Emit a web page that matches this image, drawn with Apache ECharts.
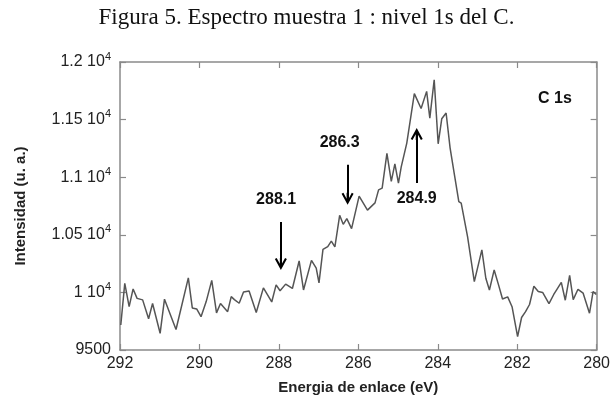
<!DOCTYPE html>
<html>
<head>
<meta charset="utf-8">
<script src="https://cdn.jsdelivr.net/npm/echarts@6/dist/echarts.min.js"></script>
<style>html,body{margin:0;padding:0;background:#fff;}#c{width:613px;height:402px;}</style>
</head>
<body>
<div id="c"></div>
<script>
// Binding energy (eV) of each vertex of the spectrum
const energy = [291.98,291.88,291.77,291.67,291.57,291.43,291.28,291.18,290.99,290.88,290.59,290.28,290.18,290.07,289.96,289.83,289.69,289.57,289.47,289.29,289.20,289.12,289.00,288.89,288.75,288.57,288.39,288.18,288.07,287.97,287.83,287.66,287.49,287.38,287.18,287.06,286.99,286.89,286.77,286.68,286.59,286.47,286.38,286.29,286.17,285.98,285.77,285.58,285.49,285.40,285.28,285.17,285.08,284.99,284.92,284.78,284.59,284.42,284.28,284.20,284.09,283.99,283.90,283.79,283.69,283.58,283.47,283.41,283.25,283.08,282.89,282.79,282.70,282.58,282.47,282.37,282.24,282.13,281.99,281.89,281.79,281.69,281.58,281.47,281.36,281.20,281.08,281.00,280.89,280.79,280.68,280.59,280.47,280.34,280.18,280.09,280.01];
// Intensity (u. a.)
const intensity = [9717,10078,9876,10030,9948,9935,9771,9904,9645,9941,9678,10126,9865,9856,9789,9920,10104,9822,9904,9833,9963,9937,9906,10004,10013,9826,10039,9917,10065,10014,10072,10034,10273,10021,10278,10210,10082,10373,10398,10445,10395,10669,10591,10640,10553,10836,10714,10777,10890,10905,11206,10963,11115,10949,11090,11296,11725,11596,11745,11513,11846,11290,11507,11557,11255,11021,10789,10775,10485,10094,10369,10123,10021,10195,10065,9943,9961,9876,9616,9782,9833,9895,10054,10007,10000,9902,9982,10027,10087,9932,10147,9937,10027,9993,9819,10007,9982];

// Y tick labels: mantissa and exponent
const yTickValues = [9500, 10000, 10500, 11000, 11500, 12000];
const yTickMantissa = ['9500', '1', '1.05', '1.1', '1.15', '1.2'];
const yTickExponent = ['', '4', '4', '4', '4', '4'];

// Peak arrows
const arrowLabels = ['288.1', '286.3', '284.9'];
const arrowEnergy = [287.95, 286.27, 284.53];
const arrowTail = [10612, 11108, 10949];
const arrowTip = [10247, 10812, 11375];
const labelEnergy = [288.07, 286.47, 284.53];
const labelValue = [10804, 11299, 10812];

const peakName = 'C 1s';
const peakNamePos = [281.05, 11681];

const chevron = 'path://M6,0 L12,11 L10.2,12 L7,6.2 L7,12 L5,12 L5,6.2 L1.8,12 L0,11 Z';

const chart = echarts.init(document.getElementById('c'), null, {renderer: 'canvas'});

const axisColor = '#8a8a8a';
const baseX = {
  type: 'value', min: 280, max: 292, interval: 2, inverse: true,
  axisLine: {show: true, lineStyle: {color: axisColor, width: 1.5}},
  axisTick: {show: true, inside: true, length: 6, lineStyle: {color: axisColor, width: 1.2}},
  splitLine: {show: false}
};
const baseY = {
  type: 'value', min: 9500, max: 12000, interval: 500,
  axisLine: {show: true, lineStyle: {color: axisColor, width: 1.5}},
  axisTick: {show: true, inside: true, length: 6, lineStyle: {color: axisColor, width: 1.2}},
  splitLine: {show: false}
};

const markLineData = arrowLabels.map((t, i) => [
  {coord: [arrowEnergy[i], arrowTail[i]], symbol: 'none'},
  {coord: [arrowEnergy[i], arrowTip[i]], symbol: chevron, symbolSize: [12, 12]}
]);

const markPointData = arrowLabels.map((t, i) => ({
  coord: [labelEnergy[i], labelValue[i]], value: t
})).concat([{coord: peakNamePos, value: peakName}]);

chart.setOption({
  animation: false,
  backgroundColor: '#fff',
  title: {
    text: 'Figura 5. Espectro muestra 1 : nivel 1s del C.',
    left: 'center', top: 1,
    textStyle: {fontFamily: 'Liberation Serif', fontWeight: 'normal', fontSize: 23, color: '#111'}
  },
  grid: {left: 120, right: 11, top: 62, bottom: 52},
  xAxis: [
    Object.assign({}, baseX, {
      position: 'bottom',
      name: 'Energia de enlace (eV)', nameLocation: 'middle', nameGap: 30,
      nameTextStyle: {fontFamily: 'Liberation Sans', fontWeight: 'bold', fontSize: 15, color: '#222'},
      axisLabel: {show: true, margin: 6, fontFamily: 'Liberation Sans', fontSize: 16, color: '#222'}
    }),
    Object.assign({}, baseX, {position: 'top', axisLabel: {show: false}})
  ],
  yAxis: [
    Object.assign({}, baseY, {
      position: 'left',
      name: 'Intensidad (u. a.)', nameLocation: 'middle', nameGap: 92,
      nameTextStyle: {fontFamily: 'Liberation Sans', fontWeight: 'bold', fontSize: 15, color: '#222'},
      axisLabel: {
        show: true, margin: 9,
        formatter: function (v) {
          const i = yTickValues.indexOf(v);
          if (i < 0) return '';
          if (!yTickExponent[i]) return '{m|' + yTickMantissa[i] + '}';
          return '{m|' + yTickMantissa[i] + ' 10}{e|' + yTickExponent[i] + '}';
        },
        rich: {
          m: {fontFamily: 'Liberation Sans', fontSize: 16, color: '#222', lineHeight: 22},
          e: {fontFamily: 'Liberation Sans', fontSize: 11, color: '#222', verticalAlign: 'top', lineHeight: 10}
        }
      }
    }),
    Object.assign({}, baseY, {position: 'right', axisLabel: {show: false}})
  ],
  series: [{
    type: 'line',
    data: energy.map((e, i) => [e, intensity[i]]),
    showSymbol: false,
    lineStyle: {color: '#555', width: 1.5},
    markLine: {
      silent: true,
      symbol: ['none', 'none'],
      lineStyle: {color: '#000', width: 2, type: 'solid'},
      itemStyle: {color: '#000'},
      label: {show: false},
      data: markLineData
    },
    markPoint: {
      silent: true,
      symbol: 'circle', symbolSize: 1,
      itemStyle: {color: 'rgba(0,0,0,0)'},
      label: {show: true, position: 'inside', formatter: p => p.value,
        fontFamily: 'Liberation Sans', fontWeight: 'bold', fontSize: 16, color: '#111'},
      data: markPointData
    }
  }]
});
</script>
</body>
</html>
